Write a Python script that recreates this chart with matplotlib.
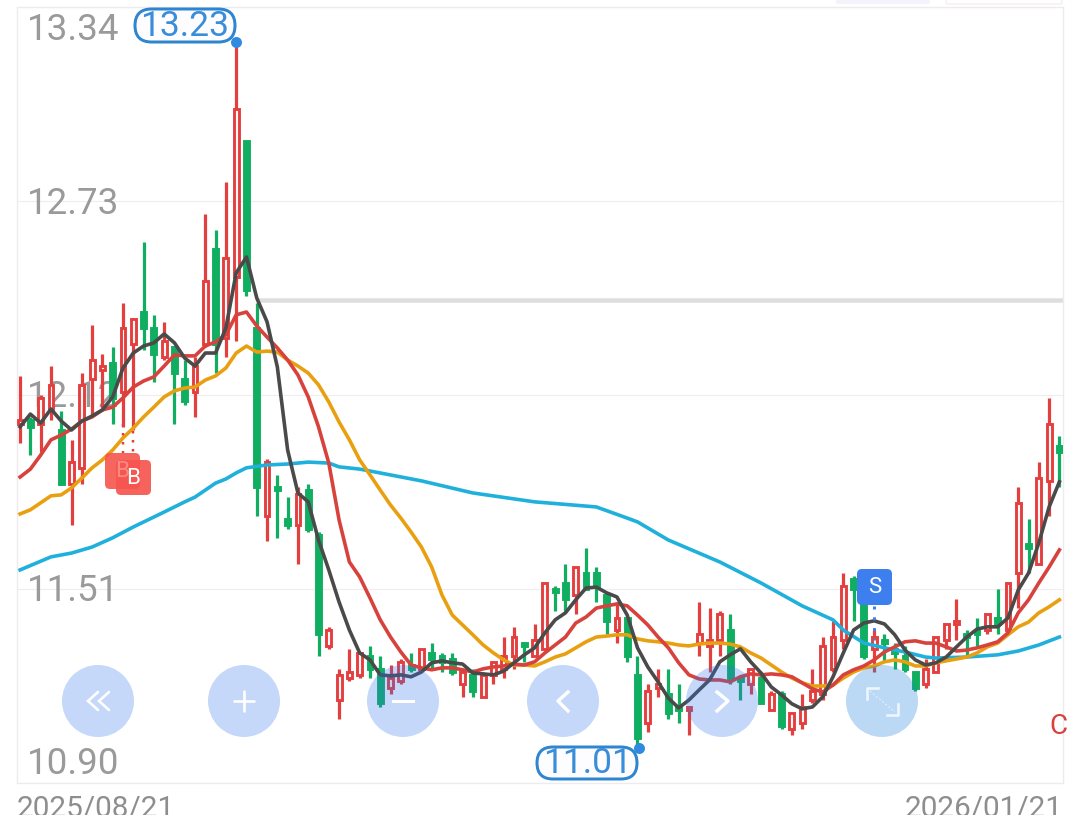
import numpy as np
import matplotlib
matplotlib.use('Agg')
import matplotlib.pyplot as plt
from matplotlib.patches import Circle, FancyBboxPatch, Rectangle

plt.rcParams['font.family'] = ['Roboto', 'DejaVu Sans']

opens = [12.03,12.04,12.03,12.07,12.01,11.84,11.89,12.17,12.20,12.22,
         12.13,12.28,12.38,12.33,12.24,12.27,12.17,12.13,12.28,12.58,
         12.30,12.49,12.92,12.33,11.74,11.83,11.73,11.71,11.82,11.68,
         11.33,11.16,11.23,11.24,11.30,11.26,11.20,11.22,11.27,11.26,
         11.31,11.30,11.29,11.21,11.24,11.17,11.24,11.26,11.30,11.34,
         11.30,11.32,11.51,11.53,11.49,11.56,11.56,11.49,11.38,11.42,
         11.24,11.09,11.20,11.18,11.14,11.13,11.34,11.33,11.35,11.38,
         11.23,11.21,11.23,11.13,11.18,11.07,11.09,11.16,11.18,11.26,
         11.35,11.54,11.48,11.32,11.35,11.32,11.30,11.25,11.21,11.25,
         11.35,11.40,11.37,11.38,11.38,11.42,11.38,11.56,11.65,11.59,
         11.85,11.96]
closes = [12.04,12.02,12.11,12.15,11.84,11.91,12.15,12.23,12.21,12.11,
          12.33,12.36,12.33,12.25,12.29,12.19,12.10,12.21,12.48,12.28,
          12.55,13.02,12.45,11.83,11.91,11.82,11.71,11.81,11.70,11.37,
          11.38,11.24,11.25,11.31,11.26,11.15,11.23,11.28,11.26,11.32,
          11.29,11.28,11.25,11.25,11.19,11.24,11.28,11.30,11.36,11.33,
          11.35,11.53,11.50,11.48,11.58,11.51,11.52,11.41,11.42,11.30,
          11.04,11.19,11.21,11.12,11.13,11.14,11.37,11.35,11.43,11.23,
          11.22,11.26,11.15,11.18,11.08,11.12,11.14,11.19,11.33,11.36,
          11.52,11.51,11.30,11.36,11.34,11.31,11.26,11.20,11.26,11.36,
          11.40,11.41,11.36,11.37,11.43,11.40,11.53,11.78,11.64,11.86,
          12.03,11.94]
highs = [12.18,12.05,12.12,12.21,12.07,11.98,12.19,12.34,12.25,12.27,
         12.41,12.36,12.60,12.37,12.35,12.27,12.23,12.24,12.69,12.64,
         12.79,13.23,12.92,12.41,11.92,11.87,11.80,11.83,11.84,11.69,
         11.39,11.26,11.32,11.31,11.33,11.30,11.27,11.29,11.31,11.32,
         11.34,11.31,11.31,11.26,11.26,11.25,11.28,11.36,11.39,11.34,
         11.40,11.53,11.52,11.59,11.58,11.64,11.58,11.49,11.47,11.42,
         11.30,11.21,11.26,11.26,11.21,11.14,11.47,11.45,11.44,11.43,
         11.23,11.26,11.25,11.19,11.19,11.12,11.18,11.26,11.36,11.41,
         11.56,11.55,11.50,11.38,11.37,11.34,11.33,11.25,11.29,11.36,
         11.40,11.48,11.38,11.42,11.43,11.51,11.53,11.83,11.73,11.91,
         12.11,11.99]
lows = [11.97,11.93,11.94,12.04,11.84,11.71,11.84,12.05,12.08,12.03,
        12.02,12.01,12.26,12.16,12.23,12.03,12.09,12.05,12.27,12.19,
        12.24,12.29,12.43,11.74,11.66,11.67,11.70,11.59,11.69,11.30,
        11.32,11.10,11.22,11.23,11.23,11.14,11.18,11.21,11.25,11.26,
        11.26,11.25,11.24,11.17,11.17,11.17,11.21,11.23,11.26,11.28,
        11.30,11.32,11.44,11.44,11.43,11.51,11.47,11.37,11.34,11.28,
        11.01,11.06,11.17,11.10,11.09,11.05,11.30,11.25,11.30,11.21,
        11.16,11.18,11.15,11.13,11.07,11.05,11.07,11.15,11.16,11.25,
        11.32,11.41,11.29,11.25,11.28,11.26,11.25,11.19,11.20,11.25,
        11.32,11.35,11.30,11.33,11.37,11.37,11.37,11.45,11.56,11.59,
        11.74,11.83]

ma5 = [12.020,12.060,12.032,12.076,12.038,12.010,12.038,12.054,12.073,12.114,
       12.205,12.252,12.274,12.284,12.312,12.284,12.236,12.211,12.252,12.252,
       12.331,12.504,12.554,12.425,12.350,12.208,11.947,11.812,11.784,11.664,
       11.570,11.469,11.381,11.309,11.287,11.240,11.237,11.240,11.234,11.249,
       11.278,11.284,11.278,11.274,11.246,11.243,11.240,11.252,11.278,11.303,
       11.325,11.372,11.413,11.435,11.476,11.513,11.516,11.498,11.485,11.428,
       11.325,11.265,11.218,11.167,11.136,11.161,11.193,11.224,11.281,11.303,
       11.322,11.281,11.246,11.202,11.177,11.149,11.133,11.139,11.171,11.234,
       11.309,11.381,11.403,11.410,11.400,11.366,11.318,11.287,11.271,11.278,
       11.296,11.328,11.359,11.384,11.391,11.391,11.419,11.507,11.560,11.655,
       11.768,11.847]
ma10 = [11.862,11.887,11.931,11.979,11.994,12.013,12.038,12.051,12.073,12.082,
        12.111,12.145,12.164,12.177,12.211,12.246,12.243,12.243,12.274,12.287,
        12.309,12.372,12.381,12.337,12.302,12.268,12.230,12.183,12.114,12.020,
        11.906,11.727,11.595,11.548,11.482,11.413,11.359,11.312,11.271,11.262,
        11.256,11.262,11.262,11.256,11.249,11.259,11.265,11.268,11.274,11.271,
        11.281,11.309,11.334,11.359,11.403,11.422,11.450,11.457,11.463,11.457,
        11.428,11.397,11.359,11.325,11.278,11.240,11.227,11.224,11.224,11.218,
        11.234,11.243,11.240,11.243,11.240,11.234,11.215,11.196,11.186,11.208,
        11.240,11.256,11.268,11.287,11.312,11.328,11.344,11.347,11.340,11.340,
        11.328,11.315,11.318,11.325,11.334,11.344,11.372,11.435,11.476,11.529,
        11.579,11.633]
ma20 = [11.746,11.759,11.781,11.803,11.806,11.828,11.859,11.891,11.916,11.947,
        11.985,12.016,12.051,12.082,12.114,12.133,12.142,12.145,12.167,12.180,
        12.205,12.252,12.274,12.255,12.258,12.255,12.230,12.211,12.189,12.152,
        12.098,12.035,11.979,11.916,11.869,11.821,11.774,11.733,11.689,11.642,
        11.579,11.491,11.428,11.397,11.366,11.334,11.309,11.287,11.271,11.271,
        11.268,11.281,11.296,11.306,11.325,11.344,11.359,11.362,11.366,11.366,
        11.353,11.347,11.344,11.340,11.334,11.331,11.337,11.340,11.340,11.337,
        11.328,11.309,11.293,11.271,11.249,11.230,11.215,11.205,11.205,11.208,
        11.230,11.249,11.262,11.268,11.281,11.287,11.281,11.268,11.268,11.278,
        11.284,11.290,11.296,11.309,11.328,11.340,11.366,11.391,11.406,11.435,
        11.454,11.476]
ma60_idx = [0,3,5,7,9,11,14,16,17,19,20,21,22,24,26,28,30,31,33,34,39,44,50,56,59,60,63,
            68,72,76,79,80,82,84,86,88,89,92,95,97,99,101]
ma60 = [11.570,11.611,11.623,11.642,11.671,11.705,11.752,11.784,11.799,11.843,
        11.856,11.875,11.891,11.900,11.903,11.909,11.906,11.894,11.887,11.881,
        11.850,11.812,11.784,11.768,11.733,11.721,11.664,11.595,11.529,11.457,
        11.413,11.381,11.340,11.325,11.312,11.296,11.293,11.296,11.303,11.315,
        11.334,11.359]

ytick_vals = [13.34, 12.73, 12.12, 11.51, 10.90]
ytick_labels = ['13.34', '12.73', '12.12', '11.51', '10.90']
ytick_shift = [-22.5, -2.5, -2, -2, 19]
date_labels = ['2025/08/21', '2026/01/21']
resistance = 12.42

RED = '#e33f3f'
GREEN = '#0fae60'
px = 0.72  # points per pixel at dpi 100

fig = plt.figure(figsize=(10.8, 8.15), dpi=100)
ax = fig.add_axes([17 / 1080, 1 - 783 / 815, 1046 / 1080, 776 / 815])
ax.set_xlim(-0.3, 101.35)
ax.set_ylim(10.90, 13.34)
ax.set_xticks([])
ax.set_yticks(ytick_vals)
ax.set_yticklabels([])
ax.tick_params(length=0)
ax.grid(axis='y', color='#f0ecf0', lw=1.2 * px, zorder=0)
ax.set_axisbelow(True)
for s in ax.spines.values():
    s.set_color('#eeeaee')
    s.set_linewidth(1.3 * px)

for v, lab, dy in zip(ytick_vals, ytick_labels, ytick_shift):
    ax.annotate(lab, (0, v), xycoords=('axes fraction', 'data'),
                xytext=(10 * px, dy * px), textcoords='offset points',
                va='center', ha='left', fontsize=26.5, color='#9a9a9a', zorder=1)

x = np.arange(len(opens))
opens, closes = np.array(opens), np.array(closes)
highs, lows = np.array(highs), np.array(lows)
up = closes >= opens
body_low = np.minimum(opens, closes)
body_h = np.abs(closes - opens)

ax.hlines(resistance, 23, 101.35, color='#dedede', lw=4.5 * px, zorder=1.5)

ax.vlines(x[up], lows[up], highs[up], color=RED, lw=3.2 * px, zorder=2)
ax.vlines(x[~up], lows[~up], highs[~up], color=GREEN, lw=3.2 * px, zorder=2)
ax.bar(x[up], body_h[up], 0.47, bottom=body_low[up], facecolor='#fff6f6',
       edgecolor=RED, linewidth=2.9 * px, zorder=3)
ax.bar(x[~up], body_h[~up], 0.47, bottom=body_low[~up], facecolor=GREEN,
       edgecolor=GREEN, linewidth=2.9 * px, zorder=3)

ax.plot(ma60_idx, ma60, color='#1fb0dc', lw=3.6 * px, zorder=4)
ax.plot(x, ma20, color='#e9a010', lw=3.6 * px, zorder=5)
ax.plot(x, ma10, color='#d8423c', lw=3.6 * px, zorder=6)
ax.plot(x, ma5, color='#4a4a4a', lw=3.6 * px, zorder=7)

# extreme markers
ax.plot([21.0, 60.1], [13.23, 11.01], 'o', ms=11 * px, mfc='#2f8ae0', mec='none',
        zorder=8, clip_on=False)

# overlay in pixel coordinates for the app's buttons and badges
ui = fig.add_axes([0, 0, 1, 1])
ui.set_xlim(0, 1080)
ui.set_ylim(815, 0)
ui.axis('off')
ui.patch.set_alpha(0)


def pill(x0, y0, x1, y1, label):
    r = (y1 - y0) / 2
    ui.add_patch(FancyBboxPatch((x0, y0), x1 - x0, y1 - y0,
                                boxstyle='round,pad=0,rounding_size=%f' % r,
                                fc='#fdfdff', ec='#2f86d0', lw=3 * px, zorder=9))
    ui.text((x0 + x1) / 2, (y0 + y1) / 2 + 0.5, label, ha='center', va='center',
            fontsize=25.5, color='#3a8dd8', zorder=10)


def badge(x0, y0, x1, y1, color, label, alpha=1.0, tcolor='white'):
    ui.add_patch(FancyBboxPatch((x0 + 5, y0 + 5), x1 - x0 - 10, y1 - y0 - 10,
                                boxstyle='round,pad=5,rounding_size=5', fc=color, ec='none', alpha=alpha))
    ui.text((x0 + x1) / 2, (y0 + y1) / 2 + 0.5, label, ha='center', va='center',
            fontsize=16, color=tcolor)


pill(135, 9, 235, 42, '13.23')
pill(537, 747, 637, 779, '11.01')

# buy / sell flags
ui.plot([123, 123], [424, 453], ls=(0, (1, 2.6)), color=RED, lw=2.5 * px)
ui.plot([133, 133], [431, 453], ls=(0, (1, 2.6)), color=RED, lw=2.5 * px)
badge(105, 453, 140, 489, '#f6554e', 'B', alpha=0.9, tcolor='#f88a84')
badge(116, 460, 151, 495, '#f6554e', 'B', alpha=0.92)
ui.plot([874, 874], [606, 640], ls=(0, (1, 2.6)), color='#3d7fee', lw=3 * px)
badge(857, 569, 892, 605, '#3d7fee', 'S')

# round buttons
centers = [98, 244, 403, 563, 722]
for cx in centers:
    ui.add_patch(Circle((cx, 701), 36, fc='#2f74f0', ec='none', alpha=0.28))
ui.add_patch(Circle((882, 701), 36, fc='#1f80e0', ec='none', alpha=0.30))

icon = dict(color='white', lw=2.6 * px, solid_capstyle='round', solid_joinstyle='miter')
ui.plot([98, 88, 98], [692, 701, 710], **icon)
ui.plot([109, 99, 109], [692, 701, 710], **icon)
ui.plot([234, 254], [701, 701], **icon)
ui.plot([244, 244], [691, 711], **icon)
ui.plot([393, 413], [701, 701], color='white', lw=3 * px)
ui.plot([568, 558, 568], [692, 701, 711], color='white', lw=3.4 * px)
ui.plot([717, 728, 717], [692, 701, 711], color='white', lw=3.4 * px)
ui.plot([878, 867, 867], [688, 688, 699], color='#eef6ff', lw=2.6 * px)
ui.plot([887, 898, 898], [715, 715, 704], color='#eef6ff', lw=2.6 * px)
ui.plot([870, 895], [691, 712], color='#e6f1fd', lw=1 * px, ls=(0, (2, 2)))

# cut-off elements at the screen edges
t = ui.text(1049, 726, 'C', ha='left', va='center', fontsize=20, color='#d9403a')
t.set_clip_path(Rectangle((0, 0), 1065, 815, transform=ui.transData))
ui.add_patch(FancyBboxPatch((838, -8), 90, 10, boxstyle='round,pad=2', fc='#f3f3fc', ec='none'))
ui.add_patch(FancyBboxPatch((948, -8), 112, 10, boxstyle='round,pad=2', fc='white', ec='#f6eeee', lw=1))

ui.text(17, 817, date_labels[0], ha='left', va='baseline', fontsize=21.4, color='#8e8e8e')
ui.text(1063, 817, date_labels[1], ha='right', va='baseline', fontsize=21.4, color='#8e8e8e')

fig.savefig('out.png', dpi=100)
